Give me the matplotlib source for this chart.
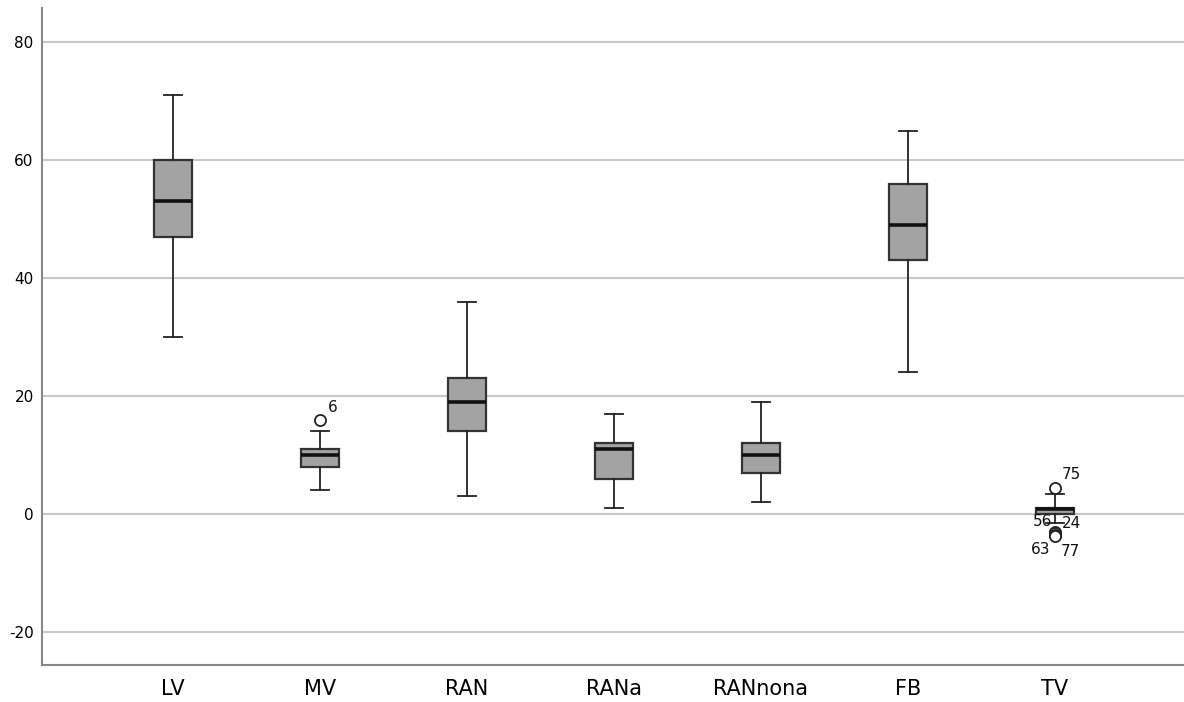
import matplotlib
matplotlib.use("Agg")
import matplotlib.pyplot as plt

categories = ["LV", "MV", "RAN", "RANa", "RANnona", "FB", "TV"]
whislo = [30, 4, 3, 1, 2, 24, -1.5]
q1 = [47, 8, 14, 6, 7, 43, 0.0]
med = [53, 10, 19, 11, 10, 49, 0.8]
q3 = [60, 11, 23, 12, 12, 56, 1.1]
whishi = [71, 14, 36, 17, 19, 65, 3.4]

# outliers: (category index, value, label, label offset in points)
outlier_cat = [1, 6, 6, 6, 6, 6]
outlier_val = [16, 4.4, -3.0, -3.2, -3.5, -3.7]
outlier_lab = ["6", "75", "56", "24", "63", "77"]
outlier_off = [(9, 9), (12, 10), (-9, 7), (12, 7), (-10, -11), (11, -11)]

yticks = [-20, 0, 20, 40, 60, 80]

fig = plt.figure(figsize=(11.84, 7.02), dpi=100)
ax = fig.add_axes([42/1184, 1 - 665/702, 1 - 42/1184, (665 - 8)/702])

stats = []
for i, c in enumerate(categories):
    stats.append(dict(label=c, whislo=whislo[i], q1=q1[i], med=med[i],
                      q3=q3[i], whishi=whishi[i], fliers=[]))

ax.bxp(stats, positions=range(len(categories)), widths=0.255,
       patch_artist=True, showfliers=False,
       boxprops=dict(facecolor="#a3a3a3", edgecolor="#333333", linewidth=1.6),
       medianprops=dict(color="#111111", linewidth=2.6),
       whiskerprops=dict(color="#222222", linewidth=1.3),
       capprops=dict(color="#222222", linewidth=1.3),
       capwidths=0.12, zorder=3)

for c, v, lab, off in zip(outlier_cat, outlier_val, outlier_lab, outlier_off):
    ax.plot([c], [v], marker="o", markersize=8, markerfacecolor="white",
            markeredgecolor="#222222", markeredgewidth=1.3, zorder=4)
    ax.annotate(lab, (c, v), xytext=off, textcoords="offset points",
                ha="center", va="center", fontsize=11, color="#111111")

ax.set_xlim(-0.891, 6.878)
ax.set_ylim(-25.6, 85.8)
ax.set_yticks(yticks)
ax.set_yticklabels([str(t) for t in yticks], fontsize=11)
ax.set_xticks(range(len(categories)))
ax.set_xticklabels(categories, fontsize=15)
ax.tick_params(axis="both", length=0, pad=6)
ax.tick_params(axis="x", pad=10)
ax.grid(axis="y", color="#c8c8c8", linewidth=1.5, zorder=0)
ax.set_axisbelow(True)
for s in ["top", "right"]:
    ax.spines[s].set_visible(False)
for s in ["left", "bottom"]:
    ax.spines[s].set_color("#888888")
    ax.spines[s].set_linewidth(1.5)

fig.savefig("out.png", dpi=100)
